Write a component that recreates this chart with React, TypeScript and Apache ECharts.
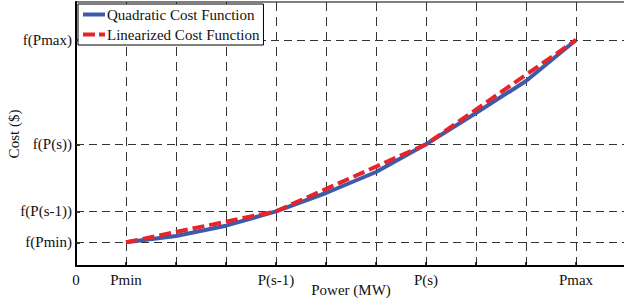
import React, { useEffect, useRef } from "react";
import * as echarts from "echarts";

const powerPoints = [1, 2, 3, 4, 5, 6, 7, 8, 9, 10];
const quadraticCost = [2.37, 3.0, 4.03, 5.47, 7.3, 9.4, 12.17, 15.3, 18.5, 22.6];
const breakPoints = [1, 4, 7, 10];
const linearCost = [2.37, 5.47, 12.17, 22.6];
const xTickLabels: Record<number, string> = { 0: "0", 1: "Pmin", 4: "P(s-1)", 7: "P(s)", 10: "Pmax" };
const yTickValues = [2.37, 5.47, 12.17, 22.6];
const yTickLabels = ["f(Pmin)", "f(P(s-1))", "f(P(s))", "f(Pmax)"];

const FONT = "'Liberation Serif', 'DejaVu Serif', serif";
const FS = 15;

export default function App() {
  const ref = useRef<HTMLDivElement>(null);
  useEffect(() => {
    const chart = echarts.init(ref.current!, undefined, { renderer: "svg" });
    chart.setOption({
      animation: false,
      backgroundColor: "#ffffff",
      textStyle: { fontFamily: FONT },
      grid: {
        left: 76,
        right: -2,
        top: 2,
        bottom: 40,
        outerBoundsMode: "none",
        containLabel: false,
        show: true,
        borderColor: "#000",
        borderWidth: 1.2,
        backgroundColor: "transparent",
      },
      legend: {
        left: 78,
        top: 4,
        orient: "vertical",
        backgroundColor: "#fff",
        borderColor: "#000",
        borderWidth: 1,
        padding: [3, 4, 3, 5],
        itemGap: 5,
        itemWidth: 22,
        itemHeight: 4,
        textStyle: { fontFamily: FONT, fontSize: FS, color: "#111", padding: [0, 0, 0, -3] },
        data: [
          { name: "Quadratic Cost Function", icon: "path://M0,0H22V4H0Z", itemStyle: { color: "#3d5ba9" } },
          { name: "Linearized Cost Function", icon: "path://M0,0H12V4H0Z M16,0H22V4H16Z", itemStyle: { color: "#e8232a" } },
        ],
      },
      xAxis: {
        type: "value",
        min: 0,
        max: 11,
        interval: 1,
        name: "Power (MW)",
        nameLocation: "middle",
        nameGap: 16,
        nameMoveOverlap: false,
        nameTextStyle: { fontFamily: FONT, fontSize: FS, color: "#111" },
        axisLine: { show: true, onZero: false, lineStyle: { color: "#000", width: 2 } },
        axisTick: { show: true, inside: true, length: 4, lineStyle: { color: "#000", width: 1.5 } },
        axisLabel: {
          fontFamily: FONT,
          fontSize: FS,
          color: "#111",
          margin: 6,
          showMaxLabel: false,
          formatter: (v: number) => xTickLabels[v] ?? "",
        },
        splitLine: { show: true, lineStyle: { color: "#333", width: 1, type: [9, 6] } },
      },
      yAxis: {
        type: "value",
        min: 0,
        max: 26.4,
        name: "Cost ($)",
        nameLocation: "middle",
        nameGap: 55,
        nameMoveOverlap: false,
        nameTextStyle: { fontFamily: FONT, fontSize: FS, color: "#111" },
        axisLine: { show: true, onZero: false, lineStyle: { color: "#000", width: 2 } },
        axisTick: { show: true, inside: true, length: 4, customValues: yTickValues, lineStyle: { color: "#000", width: 1.5 } },
        axisLabel: {
          fontFamily: FONT,
          fontSize: FS,
          color: "#111",
          margin: 4,
          customValues: yTickValues,
          formatter: (v: number) => {
            const i = yTickValues.findIndex((t) => Math.abs(t - v) < 1e-6);
            return i >= 0 ? yTickLabels[i] : "";
          },
        },
        splitLine: { show: false },
      },
      series: [
        {
          name: "Quadratic Cost Function",
          type: "line",
          symbol: "none",
          data: powerPoints.map((p, i) => [p, quadraticCost[i]]),
          lineStyle: { color: "#3d5ba9", width: 4 },
          itemStyle: { color: "#3d5ba9" },
          z: 3,
          markLine: {
            silent: true,
            symbol: "none",
            label: { show: false },
            lineStyle: { color: "#333", width: 1, type: [8, 5] },
            data: yTickValues.map((v) => ({ yAxis: v })),
            z: 1,
          },
        },
        {
          name: "Linearized Cost Function",
          type: "line",
          symbol: "none",
          data: breakPoints.map((p, i) => [p, linearCost[i]]),
          lineStyle: { color: "#e8232a", width: 4, type: [12, 5] },
          itemStyle: { color: "#e8232a" },
          z: 4,
        },
      ],
    });
    return () => chart.dispose();
  }, []);
  return <div ref={ref} style={{ width: 624, height: 306, position: "absolute", left: 0, top: 0 }} />;
}
